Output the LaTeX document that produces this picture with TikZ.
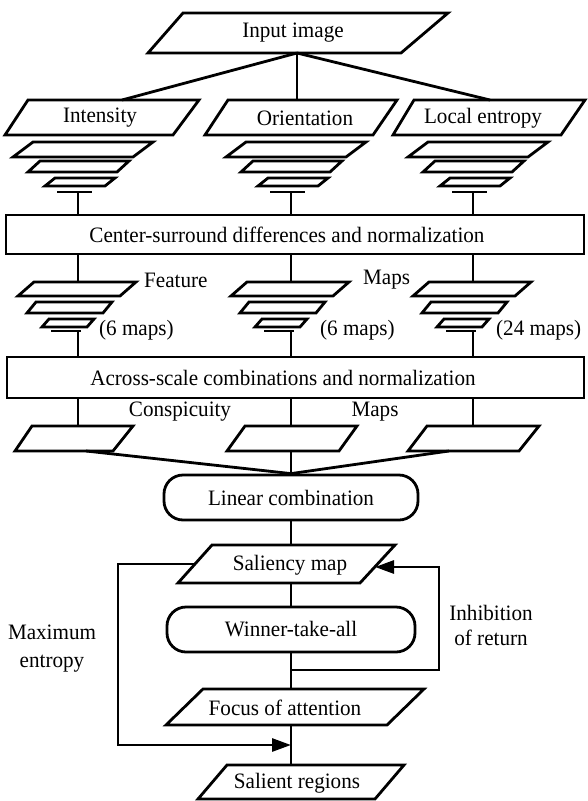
\documentclass[tikz,border=0pt]{standalone}
\usepackage{fontspec}
\setmainfont[FakeStretch=0.96]{Liberation Serif}
\usetikzlibrary{arrows.meta}
\begin{document}
\begin{tikzpicture}[x=1pt,y=-1pt,
  ln/.style={line width=2.8pt, line join=miter},
  txt/.style={inner sep=0pt, font=\fontsize{22}{24}\selectfont},
  boxr/.style={ln, draw, rectangle, inner sep=0pt, font=\fontsize{22}{24}\selectfont},
  rbox/.style={boxr, rounded corners=19pt},
  arr/.style={ln, -{Triangle[length=19pt,width=13pt]}}]
\useasboundingbox (0,0) rectangle (587,801);

% Input image
\draw[ln] (183,13) -- (448,13) -- (401,53) -- (148,53) -- cycle;
\node[txt] (inp) at (293,33) {Input image};
\coordinate (inpb) at (297,53);

% feature channels
\draw[ln] (28,100) -- (199,100) -- (173,135) -- (5,135) -- cycle;
\node[txt] (int) at (100,118) {Intensity};
\coordinate (intt) at (122,100);
\draw[ln] (228,100) -- (397,100) -- (373,135) -- (205,135) -- cycle;
\node[txt] (ori) at (305,118) {Orientation};
\coordinate (orit) at (297,100);
\draw[ln] (414,100) -- (585,100) -- (561,135) -- (393,135) -- cycle;
\node[txt] (loc) at (483,118) {Local entropy};
\coordinate (loct) at (490,100);
\draw[ln] (inpb) -- (intt);
\draw[ln] (inpb) -- (orit);
\draw[ln] (inpb) -- (loct);

% boxes
\node[boxr, minimum width=578pt, minimum height=39pt] (csd) at (295,234.5) {};
\node[txt] (csdt) at (287,235) {Center-surround differences and normalization};
\node[boxr, minimum width=577pt, minimum height=41pt] (acr) at (295.5,377.5) {};
\node[txt] (acrt) at (283,378) {Across-scale combinations and normalization};

% pyramids
\foreach \c [count=\i] in {78,291,473} {
  \coordinate (col\i) at (\c,0);
  % upper pyramid
  \draw[ln] ({\c+5-50},142) -- ({\c+5+70},142) -- ({\c+5+50},157) -- ({\c+5-70},157) -- cycle;
  \draw[ln] ({\c-38},161) -- ({\c+51},161) -- ({\c+39},172) -- ({\c-50},172) -- cycle;
  \draw[ln] ({\c-23},178) -- ({\c+37},178) -- ({\c+27},186) -- ({\c-33},186) -- cycle;
  \draw[ln] ({\c-21},192) -- ({\c+14},192);
  \coordinate (ub\i) at (\c,192);
  \draw[ln] (ub\i) -- (ub\i |- csd.north);
  % feature maps pyramid
  \coordinate (fa\i) at (\c,282);
  \draw[ln] (fa\i |- csd.south) -- (fa\i);
  \draw[ln] ({\c-1-43},282) -- ({\c-1+59},282) -- ({\c-1+43},296) -- ({\c-1-59},296) -- cycle;
  \draw[ln] ({\c-8-34},302) -- ({\c-8+42},302) -- ({\c-8+33},313) -- ({\c-8-43},313) -- cycle;
  \draw[ln] ({\c-10-19},319) -- ({\c-10+26},319) -- ({\c-10+19},327) -- ({\c-10-26},327) -- cycle;
  \draw[ln] ({\c-27},331) -- ({\c+3},331);
  \coordinate (fb\i) at (\c,331);
  \draw[ln] (fb\i) -- (fb\i |- acr.north);
  % conspicuity connector
  \coordinate (ct\i) at (\c,426);
  \draw[ln] (ct\i |- acr.south) -- (ct\i);
}

\node[txt, anchor=west] (feat) at (144,280) {Feature};
\node[txt, anchor=west] (fmaps) at (363,280) {Maps};
\node[txt, anchor=west] (n1) at (99,330) {(6 maps)};
\node[txt, anchor=west] (n2) at (320,330) {(6 maps)};
\node[txt, anchor=west] (n3) at (496,330) {(24 maps)};

% conspicuity maps
\draw[ln] (32,426) -- (133,426) -- (113,451) -- (15,451) -- cycle;
\draw[ln] (245,426) -- (357,426) -- (339,451) -- (227,451) -- cycle;
\draw[ln] (427,426) -- (539,426) -- (519,451) -- (408,451) -- cycle;
\node[txt] (consp) at (180,412) {Conspicuity};
\node[txt] (cmaps) at (375,412) {Maps};
\coordinate (cb1) at (86,451);
\coordinate (cb2) at (291,451);
\coordinate (cb3) at (449,451);

% linear combination
\node[rbox, minimum width=254pt, minimum height=45pt] (lin) at (291,497.5) {Linear combination};
\draw[ln] (cb1) -- (lin.north);
\draw[ln] (cb2) -- (lin.north);
\draw[ln] (cb3) -- (lin.north);

% saliency map
\draw[ln] (212,545) -- (395,545) -- (360,583) -- (178,583) -- cycle;
\node[txt] (sal) at (290,565) {Saliency map};
\coordinate (salt) at (291,545);
\coordinate (salb) at (291,583);
\coordinate (salL) at (195,564);
\coordinate (salR) at (375,567);
\draw[ln] (lin.south) -- (salt);

% winner take all
\node[rbox, minimum width=248pt, minimum height=45pt] (win) at (291,629.5) {Winner-take-all};
\draw[ln] (salb) -- (win.north);

% focus of attention
\draw[ln] (203,689) -- (424,689) -- (387,725) -- (166,725) -- cycle;
\node[txt] (foc) at (285,708) {Focus of attention};
\coordinate (foct) at (291,689);
\coordinate (focb) at (291,725);
\draw[ln] (win.south) -- (foct);

% salient regions
\draw[ln] (227,765) -- (404,765) -- (375,799) -- (198,799) -- cycle;
\node[txt] (srg) at (297,783) {Salient regions};
\coordinate (srgt) at (291,765);
\draw[ln] (focb) -- (srgt);

% inhibition of return loop
\coordinate (ib) at (291,670);
\coordinate (ir) at (439,670);
\draw[arr] (ib) -- (ir) -- (ir |- salR) -- (salR);
\node[txt, align=center, font=\fontsize{22}{25}\selectfont] (inh) at (491,625) {Inhibition\\of return};

% maximum entropy loop
\coordinate (ml) at (118,745);
\coordinate (mt) at (291,745);
\draw[arr] (salL) -- (ml |- salL) -- (ml) -- (mt);
\node[txt, align=center, font=\fontsize{22}{28}\selectfont] (maxe) at (52,649) {Maximum\\entropy};
\end{tikzpicture}
\end{document}
